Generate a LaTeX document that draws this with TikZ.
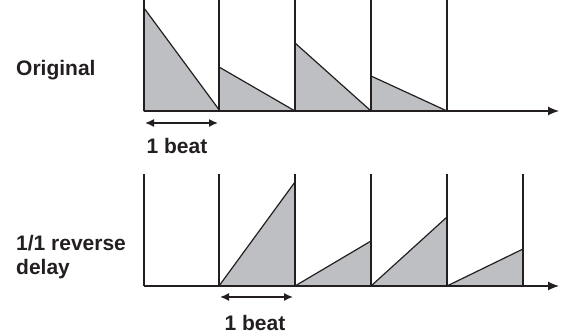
\documentclass[tikz,border=0pt]{standalone}
\usepackage{fontspec}
\setmainfont{Liberation Sans}
\usetikzlibrary{arrows.meta, positioning}
\definecolor{wavegray}{RGB}{190,191,195}
\definecolor{inkblack}{RGB}{35,31,32}

\begin{document}
\begin{tikzpicture}[
  x=1pt, y=1pt,
  lbl/.style={font=\fontsize{21}{24}\selectfont\bfseries, inner sep=0pt,
              align=left, text=inkblack},
  gridline/.style={draw=inkblack, line width=1.2pt},
  wave/.style={fill=wavegray, draw=inkblack, line width=1.2pt, line join=round},
  axis/.style={-{Latex[length=11pt, width=9pt]}, draw=inkblack, line width=1.2pt},
  span/.style={{Latex[length=9pt, width=8pt]}-{Latex[length=9pt, width=8pt]},
               draw=inkblack, line width=1.5pt},
]
\useasboundingbox (0,0) rectangle (565,336);

% Original: decaying echoes
\foreach \x/\h in {144/328, 219/269, 295/293, 371/260}
  \filldraw[wave] (\x,225) -- (\x,\h) -- (\x+76,225) -- cycle;
\foreach \x in {144, 219, 295, 371, 447}
  \draw[gridline] (\x,225) -- (\x,336);
\coordinate (topO) at (144,225);
\coordinate (topE) at (559,225);
\draw[axis] (topO) -- (topE);

% 1/1 reverse delay: rising echoes
\foreach \x/\h in {219/154, 295/95, 371/119, 447/87}
  \filldraw[wave] (\x,50) -- (\x+76,\h) -- (\x+76,50) -- cycle;
\foreach \x in {144, 219, 295, 371, 447, 523}
  \draw[gridline] (\x,50) -- (\x,162);
\coordinate (botO) at (144,50);
\coordinate (botE) at (559,50);
\draw[axis] (botO) -- (botE);

% Labels
\node[lbl, anchor=west] (orig) at (16,266) {Original};
\node[lbl, anchor=west] (rev)  at (16,79)  {1/1 reverse\\delay};

% Beat spans
\coordinate (spanAl) at (145,213);
\coordinate (spanAr) at (218,213);
\draw[span] (spanAl) -- (spanAr);
\node[lbl] (beatA) at (177,190) {1 beat};

\coordinate (spanBl) at (220,39);
\coordinate (spanBr) at (293,39);
\draw[span] (spanBl) -- (spanBr);
\node[lbl] (beatB) at (255,13) {1 beat};

\end{tikzpicture}
\end{document}
